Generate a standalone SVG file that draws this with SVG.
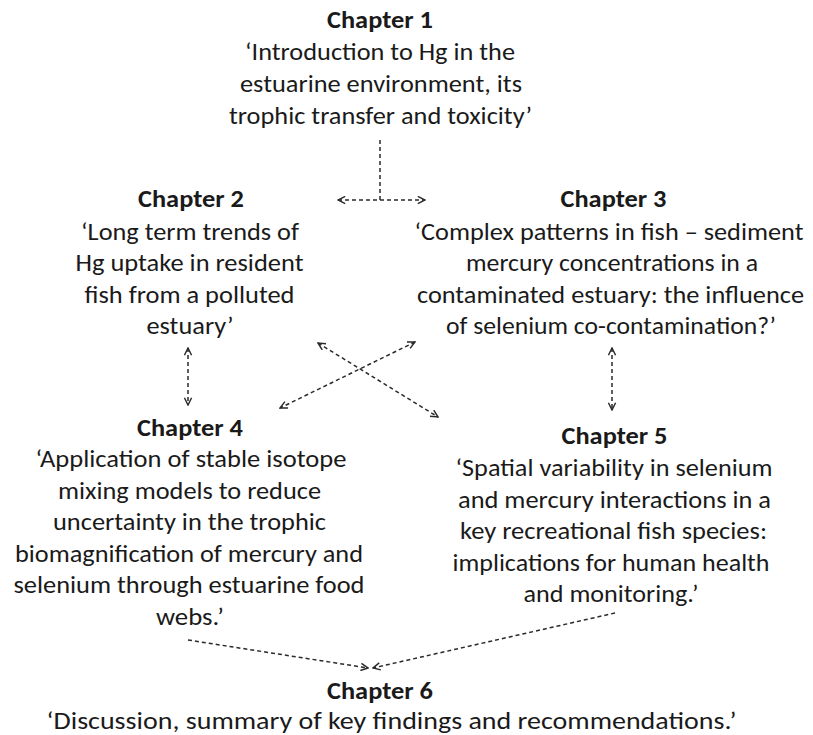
<svg xmlns="http://www.w3.org/2000/svg" width="813" height="735" viewBox="0 0 813 735">
<defs>
<style>
text{font-family:Carlito,Lato,"Liberation Sans",sans-serif;font-size:24.5px;fill:#1a1a1a;text-anchor:middle}
.h{font-weight:bold}
.c{fill:none;stroke:#2a2a2a;stroke-width:1.5;stroke-dasharray:4 3}
</style>
<marker id="ah" viewBox="0 0 10 10" refX="9" refY="5" markerWidth="9" markerHeight="9" markerUnits="userSpaceOnUse" orient="auto-start-reverse">
<path d="M1,1 L9,5 L1,9" fill="none" stroke="#2a2a2a" stroke-width="1.6"/>
</marker>
</defs>
<rect width="813" height="735" fill="#fff"/>
<g id="connectors">
<line class="c" x1="380" y1="140" x2="380" y2="200"/>
<line class="c" x1="338" y1="200" x2="425" y2="200" marker-start="url(#ah)" marker-end="url(#ah)"/>
<line class="c" x1="188" y1="348" x2="188" y2="405" marker-start="url(#ah)" marker-end="url(#ah)"/>
<line class="c" x1="318" y1="343" x2="438" y2="417" marker-start="url(#ah)" marker-end="url(#ah)"/>
<line class="c" x1="415" y1="342" x2="280" y2="408" marker-start="url(#ah)" marker-end="url(#ah)"/>
<line class="c" x1="612" y1="348" x2="612" y2="410" marker-start="url(#ah)" marker-end="url(#ah)"/>
<line class="c" x1="188" y1="640" x2="368" y2="668" marker-end="url(#ah)"/>
<line class="c" x1="615" y1="613" x2="373" y2="668" marker-end="url(#ah)"/>
</g>
<g id="chapter1">
<text class="h" x="380" y="28" textLength="106" lengthAdjust="spacingAndGlyphs">Chapter 1</text>
<text x="380" y="60" textLength="270" lengthAdjust="spacingAndGlyphs">‘Introduction to Hg in the</text>
<text x="381" y="92" textLength="282" lengthAdjust="spacingAndGlyphs">estuarine environment, its</text>
<text x="380.5" y="124" textLength="303" lengthAdjust="spacingAndGlyphs">trophic transfer and toxicity’</text>
</g>
<g id="chapter2">
<text class="h" x="191" y="207" textLength="106" lengthAdjust="spacingAndGlyphs">Chapter 2</text>
<text x="190" y="240" textLength="218" lengthAdjust="spacingAndGlyphs">‘Long term trends of</text>
<text x="189.5" y="271" textLength="228" lengthAdjust="spacingAndGlyphs">Hg uptake in resident</text>
<text x="189.5" y="303" textLength="210" lengthAdjust="spacingAndGlyphs">fish from a polluted</text>
<text x="190" y="334" textLength="87" lengthAdjust="spacingAndGlyphs">estuary’</text>
</g>
<g id="chapter3">
<text class="h" x="613.5" y="207" textLength="106" lengthAdjust="spacingAndGlyphs">Chapter 3</text>
<text x="609" y="240" textLength="389" lengthAdjust="spacingAndGlyphs">‘Complex patterns in fish – sediment</text>
<text x="612" y="271" textLength="292" lengthAdjust="spacingAndGlyphs">mercury concentrations in a</text>
<text x="610.5" y="303" textLength="387" lengthAdjust="spacingAndGlyphs">contaminated estuary: the influence</text>
<text x="611" y="334" textLength="330" lengthAdjust="spacingAndGlyphs">of selenium co-contamination?’</text>
</g>
<g id="chapter4">
<text class="h" x="190" y="436" textLength="106" lengthAdjust="spacingAndGlyphs">Chapter 4</text>
<text x="191" y="467" textLength="311" lengthAdjust="spacingAndGlyphs">‘Application of stable isotope</text>
<text x="189.5" y="499" textLength="263" lengthAdjust="spacingAndGlyphs">mixing models to reduce</text>
<text x="189.5" y="530" textLength="273" lengthAdjust="spacingAndGlyphs">uncertainty in the trophic</text>
<text x="189" y="562" textLength="348" lengthAdjust="spacingAndGlyphs">biomagnification of mercury and</text>
<text x="189" y="593" textLength="351" lengthAdjust="spacingAndGlyphs">selenium through estuarine food</text>
<text x="190" y="625" textLength="68" lengthAdjust="spacingAndGlyphs">webs.’</text>
</g>
<g id="chapter5">
<text class="h" x="614.5" y="444" textLength="106" lengthAdjust="spacingAndGlyphs">Chapter 5</text>
<text x="614" y="476" textLength="317" lengthAdjust="spacingAndGlyphs">‘Spatial variability in selenium</text>
<text x="614.5" y="508" textLength="313" lengthAdjust="spacingAndGlyphs">and mercury interactions in a</text>
<text x="613.5" y="539" textLength="307" lengthAdjust="spacingAndGlyphs">key recreational fish species:</text>
<text x="611" y="571" textLength="317" lengthAdjust="spacingAndGlyphs">implications for human health</text>
<text x="611" y="602" textLength="175" lengthAdjust="spacingAndGlyphs">and monitoring.’</text>
</g>
<g id="chapter6">
<text class="h" x="380" y="699" textLength="106" lengthAdjust="spacingAndGlyphs">Chapter 6</text>
<text x="391.5" y="729" textLength="690" lengthAdjust="spacingAndGlyphs">‘Discussion, summary of key findings and recommendations.’</text>
</g>
</svg>
